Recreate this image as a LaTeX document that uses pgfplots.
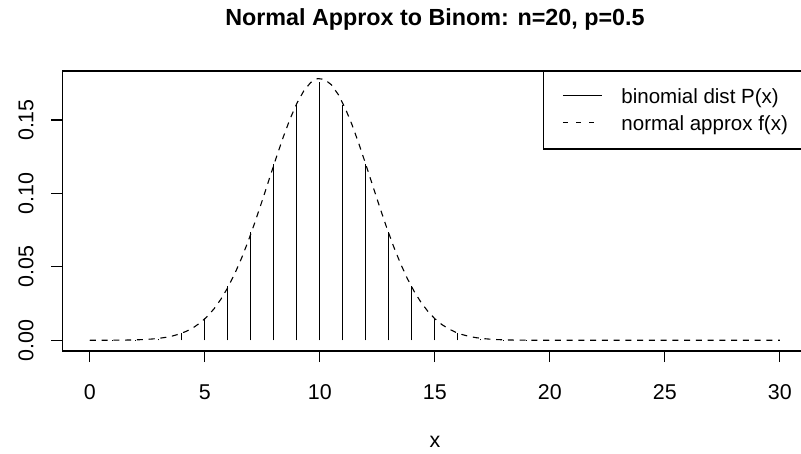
\documentclass[border=0pt]{standalone}
\usepackage{fontspec}
\setmainfont{Liberation Sans}
\usepackage{pgfplots}
\pgfplotsset{compat=1.18}

\begin{document}
\begin{tikzpicture}
  % page = 801 x 454 px, 1 px = 1 bp; axis box bottom-left at (0,0)
  \useasboundingbox (-62.3bp,-103bp) rectangle (738.7bp,351bp);
  \clip (-62.3bp,-103bp) rectangle (738.7bp,351bp);
  \begin{axis}[
      scale only axis,
      width=745.2bp,
      height=280bp,
      xmin=-1.2, xmax=31.2,
      ymin=-0.0073, ymax=0.1834,
      axis line style={line width=1.1bp},
      tick style={line width=1.1bp, black},
      tick align=outside,
      major tick length=11bp,
      xtick pos=bottom,
      ytick pos=left,
      xtick={0,5,10,15,20,25,30},
      xticklabels={0,5,10,15,20,25,30},
      ytick={0,0.05,0.10,0.15},
      yticklabels={0.00,0.05,0.10,0.15},
      ticklabel style={font=\fontsize{21.5}{25.8}\selectfont, inner sep=0pt},
      xticklabel style={anchor=base, yshift=-37bp},
      yticklabel style={xshift=-18bp, rotate=90, anchor=base},
      title={Normal Approx to Binom: n=20, p=0.5},
      title style={at={(0.5,1)}, anchor=base, yshift=39.5bp, inner sep=0pt,
                   font=\bfseries\fontsize{23.4}{28}\selectfont},
      xlabel={x},
      xlabel style={at={(0.5,0)}, anchor=base, yshift=-96.5bp, inner sep=0pt,
                    font=\fontsize{21.5}{25.8}\selectfont},
      legend image code/.code={\draw[#1, line width=1.1bp] (0bp,1.5bp) -- (39bp,1.5bp);},
      legend cell align=left,
      legend style={
          at={(rel axis cs:1,1)}, anchor=north east,
          draw=black, line width=1.1bp,
          inner xsep=19bp, inner ysep=16bp,
          row sep=8.5bp,
          font=\fontsize{20.6}{24.7}\selectfont,
          /tikz/every odd column/.append style={column sep=19bp},
          nodes={inner sep=0pt, text height=15.5bp, text depth=3bp}
      }
  ]

  % --- binomial P(x), n=20, p=0.5 (type "h") ---
  \addplot[ycomb, black, line width=1.1bp, no markers, forget plot] coordinates {
  (0, 0.00000095) (1, 0.0000191) (2, 0.000181) (3, 0.001087) (4, 0.004621)
  (5, 0.014786) (6, 0.036964) (7, 0.073929) (8, 0.120134) (9, 0.160179)
  (10, 0.176197) (11, 0.160179) (12, 0.120134) (13, 0.073929) (14, 0.036964)
  (15, 0.014786) (16, 0.004621) (17, 0.001087) (18, 0.000181) (19, 0.0000191)
  (20, 0.00000095) (21, 0) (22, 0) (23, 0) (24, 0) (25, 0) (26, 0) (27, 0)
  (28, 0) (29, 0) (30, 0)
  };

  % --- normal approx f(x), mean 10, sd sqrt(5) ---
  \addplot[black, line width=1.1bp, dash pattern=on 6bp off 5.75bp, no markers, forget plot] coordinates {
  (0.0, 0.0000081) (0.3, 0.0000146) (0.6, 0.0000259) (0.9, 0.0000452)
  (1.2, 0.0000774) (1.5, 0.000130) (1.8, 0.000215) (2.1, 0.000348)
  (2.4, 0.000554) (2.7, 0.000866) (3.0, 0.00133) (3.3, 0.00200)
  (3.6, 0.00297) (3.9, 0.00432) (4.2, 0.00617) (4.5, 0.00866)
  (4.8, 0.01194) (5.1, 0.01617) (5.4, 0.02150) (5.7, 0.02808)
  (6.0, 0.03602) (6.3, 0.04539) (6.6, 0.05615) (6.9, 0.06824)
  (7.2, 0.08146) (7.5, 0.09550) (7.8, 0.10996) (8.1, 0.12435)
  (8.4, 0.13812) (8.7, 0.15067) (9.0, 0.16143) (9.3, 0.16988)
  (9.6, 0.17558) (9.9, 0.17823) (10.2, 0.17770) (10.5, 0.17401)
  (10.8, 0.16735) (11.1, 0.15808) (11.4, 0.14666) (11.7, 0.13363)
  (12.0, 0.11959) (12.3, 0.10512) (12.6, 0.09075) (12.9, 0.07695)
  (13.2, 0.06408) (13.5, 0.05241) (13.8, 0.04211) (14.1, 0.03322)
  (14.4, 0.02574) (14.7, 0.01960) (15.0, 0.01465) (15.3, 0.01075)
  (15.6, 0.00775) (15.9, 0.00549) (16.2, 0.00382) (16.5, 0.00261)
  (16.8, 0.00175) (17.1, 0.00115) (17.4, 0.000747) (17.7, 0.000475)
  (18.0, 0.000297) (18.3, 0.000182) (18.6, 0.000110) (18.9, 0.0000648)
  (19.2, 0.0000376) (19.5, 0.0000215) (19.8, 0.0000120) (20.1, 0.0000065)
  (22.5, 0) (30.0, 0)
  };

  \addlegendimage{black}
  \addlegendentry{binomial dist P(x)}
  \addlegendimage{black, dash pattern=on 5bp off 8.3bp}
  \addlegendentry{normal approx f(x)}

  \end{axis}
\end{tikzpicture}
\end{document}
